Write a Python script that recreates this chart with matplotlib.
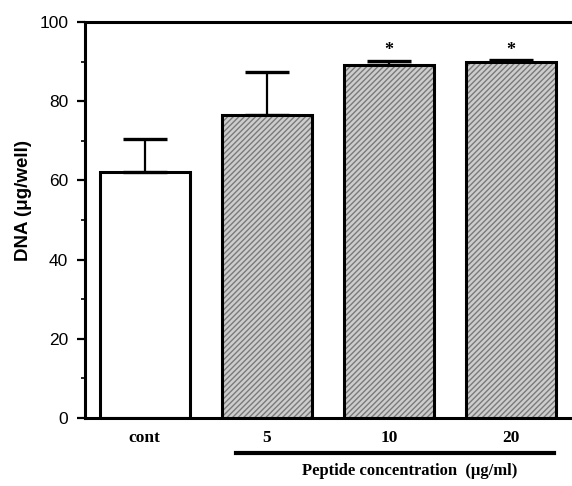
import numpy as np
import matplotlib
matplotlib.use("Agg")
import matplotlib.pyplot as plt
import matplotlib.transforms as mtransforms

# data
groups = ["cont", "5", "10", "20"]
dna = [62.2, 76.5, 89.1, 89.9]
err = [8.2, 10.9, 1.1, 0.4]
signif = [False, False, True, True]
fills = ["white", "#cdcdcd", "#cdcdcd", "#cdcdcd"]

fig = plt.figure(figsize=(5.72, 4.86), dpi=100)
ax = fig.add_axes([0.1486, 0.140, 0.8514, 0.8148])

x = np.arange(len(groups))
w = 0.74

# filled bars with a texture, then black outlines on top
for i in range(len(groups)):
    if fills[i] != "white":
        ax.bar(x[i], dna[i], w, color=fills[i], hatch="//////",
               edgecolor="#7a7a7a", linewidth=0, zorder=2)
ax.bar(x, dna, w, facecolor="none", edgecolor="black", linewidth=2.2, zorder=3)

# upper error bars only
ax.errorbar(x, dna, yerr=[np.zeros(len(err)), err], fmt="none",
            ecolor="black", elinewidth=1.6, capsize=16, capthick=2.4, zorder=1)

for i in range(len(groups)):
    if signif[i]:
        ax.text(x[i], dna[i] + err[i] + 2.5, "*", ha="center", va="center",
                fontsize=13, fontweight="bold", family="Liberation Serif")

ax.set_xlim(-0.49, 3.5)
ax.set_ylim(0, 100)
ax.set_yticks([0, 20, 40, 60, 80, 100])
ax.set_yticks([10, 30, 50, 70, 90], minor=True)
ax.set_xticks(x)
ax.set_xticklabels(groups, family="Liberation Serif", fontweight="bold", fontsize=12.5)
for lab in ax.get_yticklabels():
    lab.set_family("Liberation Sans")
    lab.set_fontsize(12.5)

ax.tick_params(axis="y", which="major", direction="out", length=6, width=1.6, pad=6)
ax.tick_params(axis="y", which="minor", direction="out", length=3, width=1.2)
ax.tick_params(axis="x", length=0, pad=9)

for s in ["left", "top", "bottom"]:
    ax.spines[s].set_linewidth(2.2)
ax.spines["right"].set_visible(False)

ax.set_ylabel("DNA (μg/well)", family="Liberation Sans", fontweight="bold",
              fontsize=13.5)
ax.yaxis.set_label_coords(-0.109, 0.548)

# underline spanning the peptide groups and its label
tr = mtransforms.blended_transform_factory(ax.transData, ax.transAxes)
ax.plot([0.75, 3.35], [-0.088, -0.088], color="black", linewidth=3,
        transform=tr, clip_on=False)
ax.text(2.17, -0.133, "Peptide concentration  (μg/ml)", transform=tr,
        ha="center", va="center", family="Liberation Serif",
        fontweight="bold", fontsize=12)

fig.savefig("out.png", dpi=100)
